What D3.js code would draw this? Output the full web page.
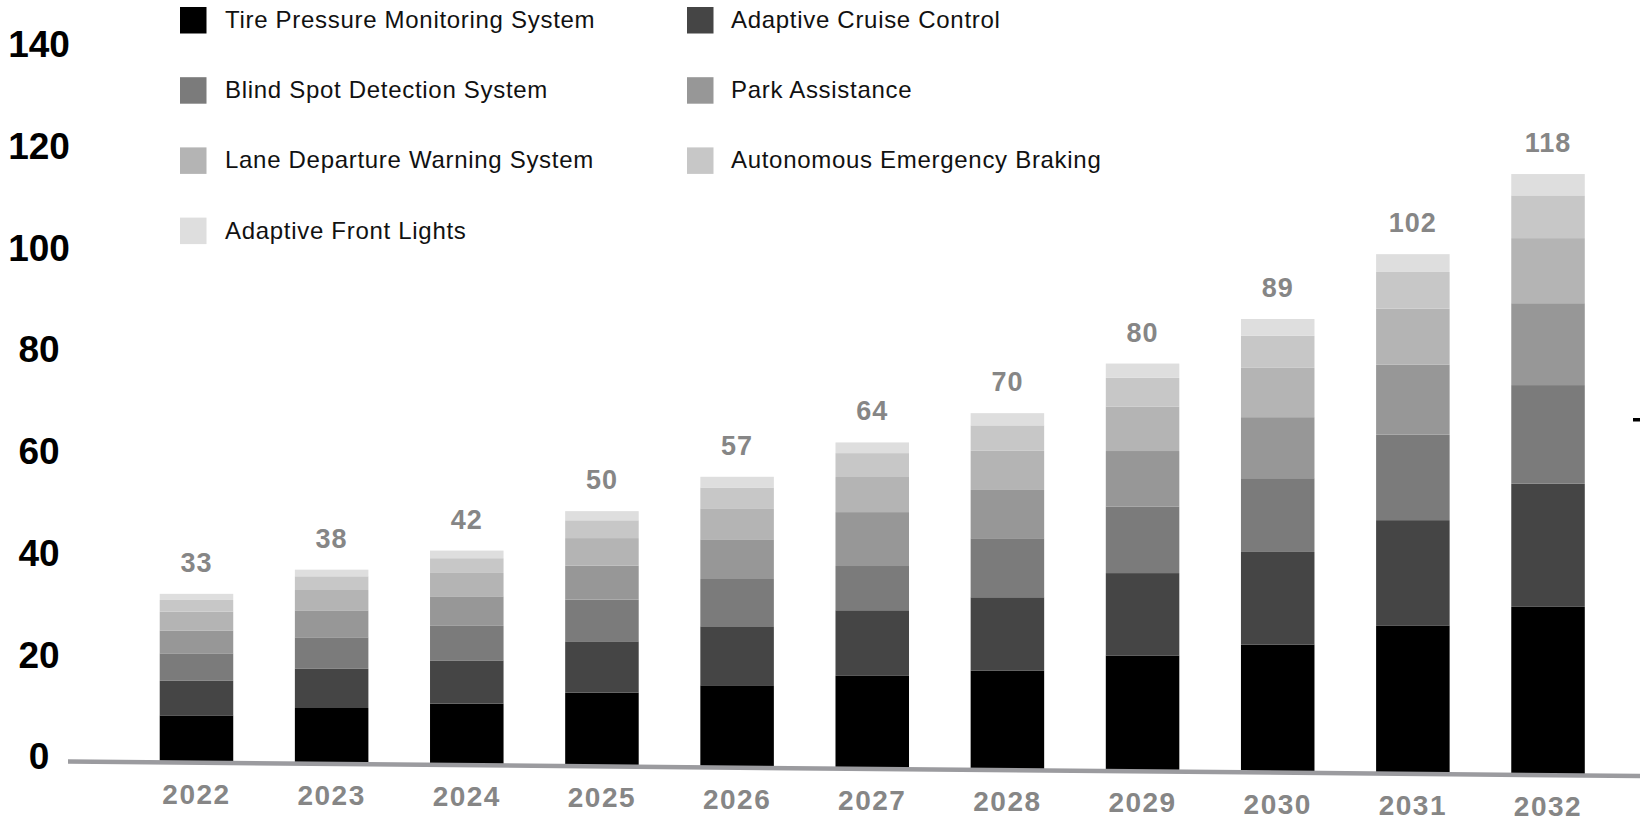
<!DOCTYPE html>
<html>
<head>
<meta charset="utf-8">
<script src="https://cdn.jsdelivr.net/npm/d3@7/dist/d3.min.js"></script>
<style>
  html, body { margin: 0; padding: 0; background: #ffffff; }
  svg { display: block; font-family: "Liberation Sans", Arial, Helvetica, sans-serif; }
</style>
</head>
<body>
<svg id="chart" width="1640" height="822"></svg>
<script>
// Years on the category axis
const years = ["2022", "2023", "2024", "2025", "2026", "2027", "2028", "2029", "2030", "2031", "2032"];

// Stacked segments per ADAS feature (bottom to top)
const tirePressure   = [9.1, 10.8, 11.9, 14.3, 16.0, 18.1, 19.4, 22.6, 25.0, 29.0, 32.9];
const adaptiveCruise = [6.8, 7.7, 8.5, 10.1, 11.6, 12.9, 14.4, 16.2, 18.2, 20.7, 24.2];
const blindSpot      = [5.4, 6.2, 6.8, 8.2, 9.3, 8.7, 11.6, 13.1, 14.5, 16.8, 19.4];
const parkAssist     = [4.5, 5.3, 5.8, 6.7, 7.8, 10.6, 9.5, 10.9, 12.0, 13.8, 16.1];
const laneDeparture  = [3.7, 4.0, 4.6, 5.4, 6.1, 6.9, 7.7, 8.7, 9.7, 11.0, 12.8];
const emergencyBrake = [2.3, 2.7, 2.9, 3.5, 4.1, 4.7, 5.0, 5.7, 6.3, 7.2, 8.4];
const frontLights    = [1.2, 1.3, 1.5, 1.8, 2.1, 2.1, 2.4, 2.8, 3.3, 3.5, 4.2];

// Totals printed above each bar
const totals = [33, 38, 42, 50, 57, 64, 70, 80, 89, 102, 118];

// Value axis tick labels
const yTicks = [0, 20, 40, 60, 80, 100, 120, 140];

const seriesNames = [
  "Tire Pressure Monitoring System",
  "Adaptive Cruise Control",
  "Blind Spot Detection System",
  "Park Assistance",
  "Lane Departure Warning System",
  "Autonomous Emergency Braking",
  "Adaptive Front Lights"
];
const seriesValues = [tirePressure, adaptiveCruise, blindSpot, parkAssist, laneDeparture, emergencyBrake, frontLights];
const seriesColors = ["#000000", "#454545", "#7b7b7b", "#979797", "#b4b4b4", "#c7c7c7", "#dedede"];

// Build rows for d3.stack
const keys = seriesNames;
const rows = years.map((yr, i) => {
  const r = { year: yr, total: totals[i] };
  keys.forEach((k, j) => { r[k] = seriesValues[j][i]; });
  return r;
});
const stacked = d3.stack().keys(keys)(rows);

const svg = d3.select("#chart");

// Scales
const x = d3.scaleBand()
  .domain(years)
  .range([128.9, 1615.6])
  .paddingInner(0.456)
  .paddingOuter(0.228);

const y = d3.scaleLinear()
  .domain([0, 140])
  .range([757, 45]);

const color = d3.scaleOrdinal().domain(keys).range(seriesColors);

// Slightly sloping floor line the bars stand on
const floorX = [68, 1640];
const floorY = d3.scaleLinear().domain(floorX).range([761.5, 776]);

// Value axis (labels only)
const yAxis = svg.append("g")
  .attr("transform", "translate(39,0)")
  .call(d3.axisLeft(y).tickValues(yTicks).tickSize(0).tickPadding(0));
yAxis.select(".domain").remove();
yAxis.selectAll("text")
  .attr("x", 0)
  .attr("text-anchor", "middle")
  .style("font-family", "'Liberation Sans', Arial, sans-serif")
  .style("font-size", "37px")
  .style("font-weight", "bold")
  .style("fill", "#000");

// Bars: one group per year, shifted down onto the floor line
const barGroups = svg.append("g").selectAll("g.bar")
  .data(rows)
  .join("g")
  .attr("class", "bar")
  .attr("transform", d => {
    const cx = x(d.year) + x.bandwidth() / 2;
    return `translate(0,${floorY(cx) - y(0) - 1})`;
  });

barGroups.each(function(d, i) {
  const g = d3.select(this);
  stacked.forEach(layer => {
    const seg = layer[i];
    g.append("rect")
      .attr("x", x(d.year))
      .attr("width", x.bandwidth())
      .attr("y", y(seg[1]))
      .attr("height", y(seg[0]) - y(seg[1]))
      .attr("fill", color(layer.key));
  });
  const top = stacked[stacked.length - 1][i][1];
  g.append("text")
    .attr("x", x(d.year) + x.bandwidth() / 2)
    .attr("y", y(top) - 22)
    .attr("text-anchor", "middle")
    .style("font-size", "27px")
    .style("font-weight", "bold")
    .style("letter-spacing", "1px")
    .style("fill", "#868686")
    .text(d.total);
});

// Floor line
svg.append("line")
  .attr("x1", floorX[0]).attr("x2", floorX[1])
  .attr("y1", floorY(floorX[0])).attr("y2", floorY(floorX[1]))
  .attr("stroke", "#9b9b9f")
  .attr("stroke-width", 4.5);

// Year labels under the floor
svg.append("g").selectAll("text")
  .data(years)
  .join("text")
  .attr("x", d => x(d) + x.bandwidth() / 2)
  .attr("y", d => floorY(x(d) + x.bandwidth() / 2) + 41)
  .attr("text-anchor", "middle")
  .style("font-size", "28px")
  .style("font-weight", "bold")
  .style("letter-spacing", "1.5px")
  .style("fill", "#868686")
  .text(d => d);

// Small tick at the right edge
svg.append("rect")
  .attr("x", 1633).attr("y", 418)
  .attr("width", 7).attr("height", 3.5)
  .attr("fill", "#000");

// Legend: two columns, row-major
const legendCols = [180, 687];
const legendRowTop = 7;
const legendRowStep = 70.2;
const legend = svg.append("g").selectAll("g.item")
  .data(keys)
  .join("g")
  .attr("class", "item")
  .attr("transform", (d, i) => `translate(${legendCols[i % 2]},${legendRowTop + Math.floor(i / 2) * legendRowStep})`);

legend.append("rect")
  .attr("width", 26.5)
  .attr("height", 26.5)
  .attr("fill", d => color(d));

legend.append("text")
  .attr("x", (d, i) => i % 2 === 0 ? 45 : 44)
  .attr("y", 12.5)
  .attr("dy", "0.35em")
  .style("font-size", "24px")
  .style("letter-spacing", "0.7px")
  .style("fill", "#111")
  .text(d => d);
</script>
</body>
</html>
